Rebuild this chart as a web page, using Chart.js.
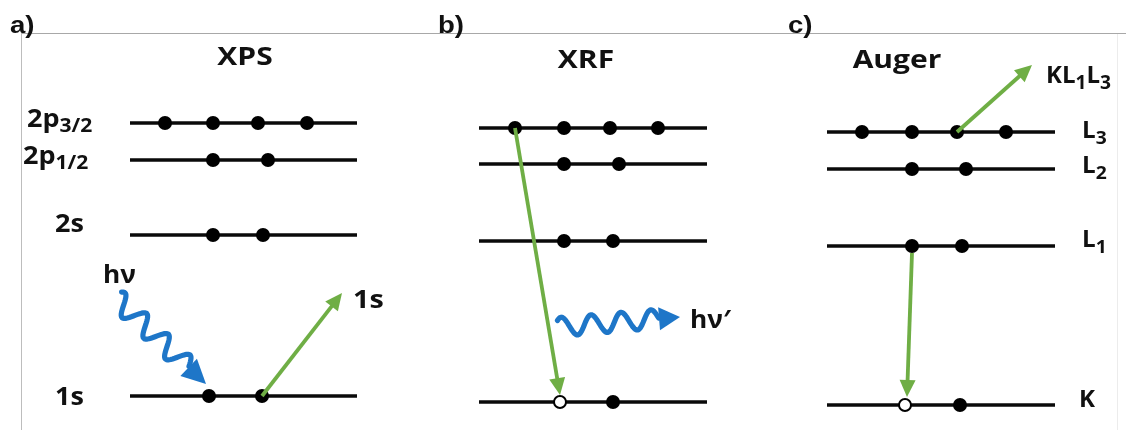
<!DOCTYPE html>
<html><head><meta charset="utf-8">
<script src="https://cdn.jsdelivr.net/npm/chart.js@4/dist/chart.umd.min.js"></script>
<style>html,body{margin:0;padding:0;background:#fff;}canvas{display:block}</style>
</head><body>
<canvas id="c" width="1126" height="430"></canvas>
<script>
// ---------------- data ----------------
const panelLabels = ['a)', 'b)', 'c)'];
const panelTitles = ['XPS', 'XRF', 'Auger'];

const xpsLevels = ['2p_3/2', '2p_1/2', '2s', '1s'];
const xpsEnergy = [273, 236, 161, 0];
const xpsElectrons = [[165, 213, 258, 307], [213, 268], [213, 263], [209, 262]];

const xrfEnergy = [268, 232, 155, -6];
const xrfElectrons = [[515, 564, 610, 658], [564, 619], [564, 613], [613]];
const xrfHoles = [560];

const augerLevels = ['L_3', 'L_2', 'L_1', 'K'];
const augerEnergy = [264, 227, 150, -9];
const augerElectrons = [[862, 912, 957, 1006], [912, 966], [912, 962], [960]];
const augerHoles = [905];

// transitions: [x0, E0, x1, E1]
const xpsEjection = [262, 0, 342, 103];
const xrfDrop = [515, 268, 560, 1];
const augerDrop = [912, 143, 907, -1];
const augerEjection = [957, 264, 1032, 331];
// photons: [x0, E0, xTip, ETip]
const xpsPhoton = [116, 98, 206, 12];
const xrfPhoton = [558, 69, 680, 79];

// ---------------- layout / styles ----------------
const levelSpans = [[130, 357], [479, 707], [827, 1055]];
const GREEN = '#6fae45', BLUE = '#1e76c8';
const LABEL_FONT = '"Open Sans", Lato, "DejaVu Sans", sans-serif';

const datasets = [];
const panelEnergies = [xpsEnergy, xrfEnergy, augerEnergy];
panelEnergies.forEach((en, p) => {
  en.forEach(E => {
    datasets.push({
      data: [{x: levelSpans[p][0], y: E}, {x: levelSpans[p][1], y: E}],
      showLine: true, borderColor: '#0a0a0a', borderWidth: 3.5,
      pointRadius: 0, order: 3
    });
  });
});
const elecPts = [];
[[xpsElectrons, xpsEnergy], [xrfElectrons, xrfEnergy], [augerElectrons, augerEnergy]].forEach(([el, en]) => {
  el.forEach((xs, i) => xs.forEach(x => elecPts.push({x, y: en[i]})));
});
datasets.push({data: elecPts, pointRadius: 7, pointBackgroundColor: '#000', pointBorderWidth: 0, order: 1});
const holePts = xrfHoles.map(x => ({x, y: xrfEnergy[3]})).concat(augerHoles.map(x => ({x, y: augerEnergy[3]})));
datasets.push({data: holePts, pointRadius: 6, pointBackgroundColor: '#fff', pointBorderColor: '#000', pointBorderWidth: 2, order: 0});

function parts(txt) {
  const out = [];
  const segs = txt.split('_');
  out.push({t: segs[0], sub: false});
  for (let i = 1; i < segs.length; i++) {
    const mm = segs[i].match(/^([0-9\/]+)(.*)$/);
    out.push({t: mm[1], sub: true});
    if (mm[2]) out.push({t: mm[2], sub: false});
  }
  return out;
}

function drawText(ctx, txt, px, py, size, sx, align, family, subScale, subShift) {
  const ps = parts(txt);
  ctx.save();
  ctx.textBaseline = 'alphabetic';
  ctx.textAlign = 'left';
  let w = 0;
  ps.forEach(p => { ctx.font = `bold ${p.sub ? size * subScale : size}px ${family}`; p.w = ctx.measureText(p.t).width; w += p.w; });
  ctx.translate(px, py);
  ctx.scale(sx, 1);
  let x = align === 'center' ? -w / 2 : 0;
  ps.forEach(p => {
    ctx.font = `bold ${p.sub ? size * subScale : size}px ${family}`;
    ctx.fillStyle = '#111';
    ctx.fillText(p.t, x, p.sub ? subShift : 0);
    x += p.w;
  });
  ctx.restore();
}

function arrow(ctx, x0, y0, x1, y1, color, lw, hl, hw) {
  const dx = x1 - x0, dy = y1 - y0, L = Math.hypot(dx, dy), ux = dx / L, uy = dy / L;
  const bx = x1 - ux * hl, by = y1 - uy * hl;
  ctx.save();
  ctx.strokeStyle = color; ctx.fillStyle = color; ctx.lineWidth = lw; ctx.lineCap = 'butt';
  ctx.beginPath(); ctx.moveTo(x0, y0); ctx.lineTo(bx + ux * 2, by + uy * 2); ctx.stroke();
  ctx.beginPath(); ctx.moveTo(x1, y1);
  ctx.lineTo(bx - uy * hw / 2, by + ux * hw / 2);
  ctx.lineTo(bx + uy * hw / 2, by - ux * hw / 2);
  ctx.closePath(); ctx.fill();
  ctx.restore();
}

function wave(ctx, x0, y0, x1, y1, lambda, amp, sign, color, lw, hl, hw) {
  const dx = x1 - x0, dy = y1 - y0, L = Math.hypot(dx, dy), ux = dx / L, uy = dy / L;
  const nx = -uy, ny = ux;
  const Lw = L - hl;
  ctx.save();
  ctx.strokeStyle = color; ctx.fillStyle = color; ctx.lineWidth = lw; ctx.lineCap = 'round'; ctx.lineJoin = 'round';
  ctx.beginPath();
  for (let s = 0; s <= Lw + 0.01; s += 1) {
    const o = sign * amp * Math.sin(2 * Math.PI * (Lw - s) / lambda);
    const px = x0 + ux * s + nx * o, py = y0 + uy * s + ny * o;
    if (s === 0) ctx.moveTo(px, py); else ctx.lineTo(px, py);
  }
  ctx.stroke();
  const bx = x1 - ux * hl, by = y1 - uy * hl;
  ctx.beginPath(); ctx.moveTo(x1, y1);
  ctx.lineTo(bx - uy * hw / 2, by + ux * hw / 2);
  ctx.lineTo(bx + uy * hw / 2, by - ux * hw / 2);
  ctx.closePath(); ctx.fill();
  ctx.restore();
}

const framePlugin = {
  id: 'frame',
  beforeDraw(chart) {
    const ctx = chart.ctx;
    ctx.save();
    ctx.fillStyle = '#fff'; ctx.fillRect(0, 0, chart.width, chart.height);
    ctx.strokeStyle = '#a8a8a8'; ctx.lineWidth = 1;
    ctx.beginPath(); ctx.moveTo(22, 33.5); ctx.lineTo(chart.width, 33.5); ctx.stroke();
    ctx.strokeStyle = '#bdbdbd';
    ctx.beginPath(); ctx.moveTo(21.5, 33); ctx.lineTo(21.5, chart.height); ctx.stroke();
    ctx.strokeStyle = '#ececec';
    ctx.beginPath(); ctx.moveTo(1117.5, 34); ctx.lineTo(1117.5, chart.height); ctx.stroke();
    ctx.restore();
  }
};

// label anchors: [x, E, align]
const titlePos = [[245, 331, 'center'], [586, 328, 'center'], [897, 328, 'center']];
const panelLabelPos = [[10, 363], [438, 363], [788, 363]];
const xpsLabelPos = [[27, 269], [23, 232], [55, 164], [55, -9]];
const augerLabelPos = [[1082, 258], [1082, 223], [1082, 149], [1079, -11]];

const decorPlugin = {
  id: 'decor',
  afterDatasetsDraw(chart) {
    const ctx = chart.ctx, X = chart.scales.x, Y = chart.scales.y;
    const px = v => X.getPixelForValue(v), py = v => Y.getPixelForValue(v);
    const arr = (a, c) => arrow(ctx, px(a[0]), py(a[1]), px(a[2]), py(a[3]), c, 3.8, 17, 16);
    arr(xpsEjection, GREEN);
    arr(xrfDrop, GREEN);
    arr(augerDrop, GREEN);
    arr(augerEjection, GREEN);
    wave(ctx, px(xpsPhoton[0]), py(xpsPhoton[1]), px(xpsPhoton[2]), py(xpsPhoton[3]), 30, 10, -1, BLUE, 5.2, 24, 24);
    wave(ctx, px(xrfPhoton[0]), py(xrfPhoton[1]), px(xrfPhoton[2]), py(xrfPhoton[3]), 30, 9.5, -1, BLUE, 5.2, 21, 23);

    const SX = 1.2;
    panelLabels.forEach((t, i) => drawText(ctx, t, px(panelLabelPos[i][0]), py(panelLabelPos[i][1]), 24, 1.15, 'left', '"Liberation Sans", Arial, sans-serif', 0.8, 5));
    panelTitles.forEach((t, i) => drawText(ctx, t, px(titlePos[i][0]), py(titlePos[i][1]), 25, SX, 'center', LABEL_FONT, 0.8, 5));
    xpsLevels.forEach((t, i) => drawText(ctx, t, px(xpsLabelPos[i][0]), py(xpsLabelPos[i][1]), 25, 1.08, 'left', LABEL_FONT, 0.78, 5));
    augerLevels.forEach((t, i) => drawText(ctx, t, px(augerLabelPos[i][0]), py(augerLabelPos[i][1]), 23, 1.05, 'left', LABEL_FONT, 0.8, 6));
    drawText(ctx, 'hν', px(103), py(113), 25, 1.05, 'left', LABEL_FONT, 0.8, 5);
    drawText(ctx, '1s', px(353), py(88), 25, 1.15, 'left', LABEL_FONT, 0.8, 5);
    drawText(ctx, 'hν′', px(690), py(68), 25, 1.05, 'left', LABEL_FONT, 0.8, 5);
    drawText(ctx, 'KL_1L_3', px(1046), py(313), 24, 1.0, 'left', LABEL_FONT, 0.8, 6);
  }
};

new Chart(document.getElementById('c'), {
  type: 'scatter',
  data: {datasets},
  options: {
    responsive: false, animation: false, devicePixelRatio: 1, events: [],
    layout: {padding: 0, autoPadding: false},
    plugins: {legend: {display: false}, tooltip: {enabled: false}},
    scales: {
      x: {type: 'linear', min: 0, max: 1126, display: false},
      y: {type: 'linear', min: -34, max: 396, display: false}
    }
  },
  plugins: [framePlugin, decorPlugin]
});
</script>
</body></html>
